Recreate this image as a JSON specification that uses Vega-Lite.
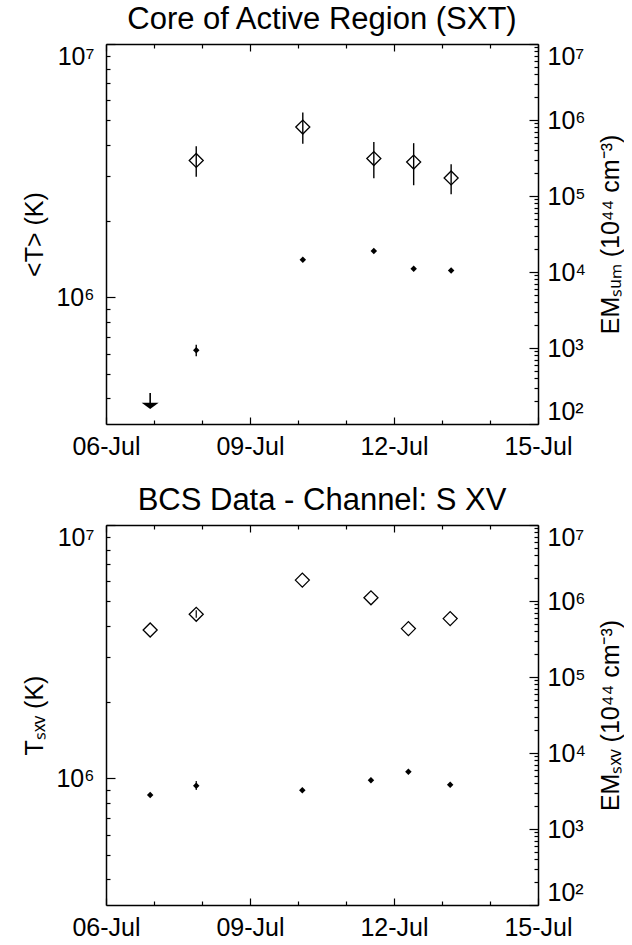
{
  "$schema": "https://vega.github.io/schema/vega-lite/v6.json",
  "padding": {"left": 22, "top": 4, "right": 0, "bottom": 0},
  "spacing": 23,
  "datasets": {
    "sxt_t": [
      {"time": "1996-07-07T21:07:00Z", "t": 3470000, "t_lo": 2990000, "t_hi": 3950000},
      {"time": "1996-07-10T02:24:00Z", "t": 4700000, "t_lo": 4040000, "t_hi": 5360000},
      {"time": "1996-07-11T13:55:00Z", "t": 3530000, "t_lo": 2950000, "t_hi": 4100000},
      {"time": "1996-07-12T09:50:00Z", "t": 3420000, "t_lo": 2770000, "t_hi": 4060000},
      {"time": "1996-07-13T04:34:00Z", "t": 2960000, "t_lo": 2550000, "t_hi": 3350000}
    ],
    "sxt_em": [
      {"time": "1996-07-07T21:07:00Z", "em": 933, "em_lo": 780, "em_hi": 1100},
      {"time": "1996-07-10T02:24:00Z", "em": 14500},
      {"time": "1996-07-11T13:55:00Z", "em": 18900},
      {"time": "1996-07-12T09:50:00Z", "em": 11070},
      {"time": "1996-07-13T04:34:00Z", "em": 10500}
    ],
    "sxt_lim": [
      {"time": "1996-07-06T22:05:00Z", "em_top": 256, "em_lim": 173}
    ],
    "bcs_t": [
      {"time": "1996-07-06T22:05:00Z", "t": 3850000},
      {"time": "1996-07-07T21:07:00Z", "t": 4440000, "t_lo": 4300000, "t_hi": 4610000},
      {"time": "1996-07-10T02:10:00Z", "t": 6060000},
      {"time": "1996-07-11T12:29:00Z", "t": 5160000},
      {"time": "1996-07-12T07:12:00Z", "t": 3900000},
      {"time": "1996-07-13T04:05:00Z", "t": 4270000}
    ],
    "bcs_em": [
      {"time": "1996-07-06T22:05:00Z", "em": 2800},
      {"time": "1996-07-07T21:07:00Z", "em": 3715, "em_lo": 3260, "em_hi": 4290},
      {"time": "1996-07-10T02:10:00Z", "em": 3230},
      {"time": "1996-07-11T12:29:00Z", "em": 4380},
      {"time": "1996-07-12T07:12:00Z", "em": 5680},
      {"time": "1996-07-13T04:05:00Z", "em": 3830}
    ]
  },
  "vconcat": [
    {
      "title": "Core of Active Region (SXT)",
      "width": 432,
      "height": 380,
      "layer": [
        {
          "encoding": {
            "x": {"field": "time", "type": "temporal",
              "scale": {"type": "utc", "nice": false, "domain": [{"year": 1996, "month": 7, "date": 6, "utc": true}, {"year": 1996, "month": 7, "date": 15, "utc": true}]},
              "axis": {"orient": "bottom", "title": null, "labelAngle": 0, "labelOverlap": false, "labelFlush": false, "labelPadding": 17,
                "values": [{"year": 1996, "month": 7, "date": 6, "utc": true}, {"year": 1996, "month": 7, "date": 7, "utc": true}, {"year": 1996, "month": 7, "date": 8, "utc": true}, {"year": 1996, "month": 7, "date": 9, "utc": true}, {"year": 1996, "month": 7, "date": 10, "utc": true}, {"year": 1996, "month": 7, "date": 11, "utc": true}, {"year": 1996, "month": 7, "date": 12, "utc": true}, {"year": 1996, "month": 7, "date": 13, "utc": true}, {"year": 1996, "month": 7, "date": 14, "utc": true}, {"year": 1996, "month": 7, "date": 15, "utc": true}],
                "labelExpr": "utcdate(datum.value) % 3 == 0 ? utcFormat(datum.value, '%d-%b') : ''",
                "tickSize": {"condition": {"test": "utcdate(datum.value) % 3 == 0", "value": -7}, "value": -4}}}
          },
          "layer": [
            {
              "data": {"name": "sxt_t"},
              "mark": {"type": "rule", "color": "black", "strokeWidth": 1.4},
              "encoding": {
                "y": {"field": "t_lo", "type": "quantitative",
                  "scale": {"type": "log", "nice": false, "domain": [316228, 10000000]},
                  "axis": {"orient": "left", "title": "<T> (K)", "labelOverlap": false, "labelFlush": true, "labelPadding": 21, "titlePadding": 8,
                    "values": [400000, 500000, 600000, 700000, 800000, 900000, 1000000, 2000000, 3000000, 4000000, 5000000, 6000000, 7000000, 8000000, 9000000, 10000000],
                    "labelExpr": "datum.value == 1000000 ? '10⁶' : datum.value == 10000000 ? '10⁷' : ''",
                    "tickSize": {"condition": {"test": "datum.value == 1000000 || datum.value == 10000000", "value": -9}, "value": -4}}},
                "y2": {"field": "t_hi"}
              }
            },
            {
              "data": {"name": "sxt_t"},
              "mark": {"type": "point", "shape": "diamond", "filled": false, "color": "black", "size": 196, "strokeWidth": 1.3, "opacity": 1},
              "encoding": {
                "y": {"field": "t", "type": "quantitative", "scale": {"type": "log", "nice": false, "domain": [316228, 10000000]}}
              }
            }
          ]
        },
        {
          "encoding": {
            "x": {"field": "time", "type": "temporal",
              "scale": {"type": "utc", "nice": false, "domain": [{"year": 1996, "month": 7, "date": 6, "utc": true}, {"year": 1996, "month": 7, "date": 15, "utc": true}]},
              "axis": {"orient": "top", "title": null, "labels": false,
                "values": [{"year": 1996, "month": 7, "date": 6, "utc": true}, {"year": 1996, "month": 7, "date": 7, "utc": true}, {"year": 1996, "month": 7, "date": 8, "utc": true}, {"year": 1996, "month": 7, "date": 9, "utc": true}, {"year": 1996, "month": 7, "date": 10, "utc": true}, {"year": 1996, "month": 7, "date": 11, "utc": true}, {"year": 1996, "month": 7, "date": 12, "utc": true}, {"year": 1996, "month": 7, "date": 13, "utc": true}, {"year": 1996, "month": 7, "date": 14, "utc": true}, {"year": 1996, "month": 7, "date": 15, "utc": true}],
                "tickSize": {"condition": {"test": "utcdate(datum.value) % 3 == 0", "value": -7}, "value": -4}}}
          },
          "layer": [
            {
              "data": {"name": "sxt_em"},
              "mark": {"type": "point", "shape": "diamond", "filled": true, "color": "black", "size": 42, "opacity": 1},
              "encoding": {
                "y": {"field": "em", "type": "quantitative",
                  "scale": {"type": "log", "nice": false, "domain": [100, 10000000]},
                  "axis": {"orient": "right", "title": "EMₛᵤₘ (10⁴⁴ cm⁻³)", "titleAngle": 270, "titleBaseline": "top", "labelOverlap": false, "labelFlush": true, "labelPadding": 18, "titlePadding": 13,
                    "values": [100, 200, 300, 400, 500, 600, 700, 800, 900, 1000, 2000, 3000, 4000, 5000, 6000, 7000, 8000, 9000, 10000, 20000, 30000, 40000, 50000, 60000, 70000, 80000, 90000, 100000, 200000, 300000, 400000, 500000, 600000, 700000, 800000, 900000, 1000000, 2000000, 3000000, 4000000, 5000000, 6000000, 7000000, 8000000, 9000000, 10000000],
                    "labelExpr": "datum.value == 100 ? '10²' : datum.value == 1000 ? '10³' : datum.value == 10000 ? '10⁴' : datum.value == 100000 ? '10⁵' : datum.value == 1000000 ? '10⁶' : datum.value == 10000000 ? '10⁷' : ''",
                    "tickSize": {"condition": {"test": "indexof([100, 1000, 10000, 100000, 1000000, 10000000], datum.value) >= 0", "value": -9}, "value": -4}}}
              }
            },
            {
              "data": {"name": "sxt_em"},
              "transform": [{"filter": "isValid(datum.em_lo)"}],
              "mark": {"type": "rule", "color": "black", "strokeWidth": 1.4},
              "encoding": {
                "y": {"field": "em_lo", "type": "quantitative", "scale": {"type": "log", "nice": false, "domain": [100, 10000000]}},
                "y2": {"field": "em_hi"}
              }
            },
            {
              "data": {"name": "sxt_lim"},
              "mark": {"type": "rule", "color": "black", "strokeWidth": 1.6},
              "encoding": {
                "y": {"field": "em_top", "type": "quantitative", "scale": {"type": "log", "nice": false, "domain": [100, 10000000]}},
                "y2": {"field": "em_lim"}
              }
            },
            {
              "data": {"name": "sxt_lim"},
              "mark": {"type": "point", "shape": "M-1,-0.37L1,-0.37L0,0.37Z", "filled": true, "color": "black", "size": 289, "opacity": 1},
              "encoding": {
                "y": {"field": "em_lim", "type": "quantitative", "scale": {"type": "log", "nice": false, "domain": [100, 10000000]}}
              }
            }
          ]
        }
      ],
      "resolve": {"scale": {"y": "independent"}, "axis": {"x": "independent"}}
    },
    {
      "title": "BCS Data - Channel: S XV",
      "width": 432,
      "height": 380,
      "layer": [
        {
          "encoding": {
            "x": {"field": "time", "type": "temporal",
              "scale": {"type": "utc", "nice": false, "domain": [{"year": 1996, "month": 7, "date": 6, "utc": true}, {"year": 1996, "month": 7, "date": 15, "utc": true}]},
              "axis": {"orient": "bottom", "title": null, "labelAngle": 0, "labelOverlap": false, "labelFlush": false, "labelPadding": 17,
                "values": [{"year": 1996, "month": 7, "date": 6, "utc": true}, {"year": 1996, "month": 7, "date": 7, "utc": true}, {"year": 1996, "month": 7, "date": 8, "utc": true}, {"year": 1996, "month": 7, "date": 9, "utc": true}, {"year": 1996, "month": 7, "date": 10, "utc": true}, {"year": 1996, "month": 7, "date": 11, "utc": true}, {"year": 1996, "month": 7, "date": 12, "utc": true}, {"year": 1996, "month": 7, "date": 13, "utc": true}, {"year": 1996, "month": 7, "date": 14, "utc": true}, {"year": 1996, "month": 7, "date": 15, "utc": true}],
                "labelExpr": "utcdate(datum.value) % 3 == 0 ? utcFormat(datum.value, '%d-%b') : ''",
                "tickSize": {"condition": {"test": "utcdate(datum.value) % 3 == 0", "value": -7}, "value": -4}}}
          },
          "layer": [
            {
              "data": {"name": "bcs_t"},
              "mark": {"type": "point", "shape": "diamond", "filled": false, "color": "black", "size": 196, "strokeWidth": 1.3, "opacity": 1},
              "encoding": {
                "y": {"field": "t", "type": "quantitative",
                  "scale": {"type": "log", "nice": false, "domain": [316228, 10000000]},
                  "axis": {"orient": "left", "title": "Tₛₓᵥ (K)", "labelOverlap": false, "labelFlush": true, "labelPadding": 21, "titlePadding": 8,
                    "values": [400000, 500000, 600000, 700000, 800000, 900000, 1000000, 2000000, 3000000, 4000000, 5000000, 6000000, 7000000, 8000000, 9000000, 10000000],
                    "labelExpr": "datum.value == 1000000 ? '10⁶' : datum.value == 10000000 ? '10⁷' : ''",
                    "tickSize": {"condition": {"test": "datum.value == 1000000 || datum.value == 10000000", "value": -9}, "value": -4}}}
              }
            },
            {
              "data": {"name": "bcs_t"},
              "transform": [{"filter": "isValid(datum.t_lo)"}],
              "mark": {"type": "rule", "color": "black", "strokeWidth": 1.2},
              "encoding": {
                "y": {"field": "t_lo", "type": "quantitative", "scale": {"type": "log", "nice": false, "domain": [316228, 10000000]}},
                "y2": {"field": "t_hi"}
              }
            }
          ]
        },
        {
          "encoding": {
            "x": {"field": "time", "type": "temporal",
              "scale": {"type": "utc", "nice": false, "domain": [{"year": 1996, "month": 7, "date": 6, "utc": true}, {"year": 1996, "month": 7, "date": 15, "utc": true}]},
              "axis": {"orient": "top", "title": null, "labels": false,
                "values": [{"year": 1996, "month": 7, "date": 6, "utc": true}, {"year": 1996, "month": 7, "date": 7, "utc": true}, {"year": 1996, "month": 7, "date": 8, "utc": true}, {"year": 1996, "month": 7, "date": 9, "utc": true}, {"year": 1996, "month": 7, "date": 10, "utc": true}, {"year": 1996, "month": 7, "date": 11, "utc": true}, {"year": 1996, "month": 7, "date": 12, "utc": true}, {"year": 1996, "month": 7, "date": 13, "utc": true}, {"year": 1996, "month": 7, "date": 14, "utc": true}, {"year": 1996, "month": 7, "date": 15, "utc": true}],
                "tickSize": {"condition": {"test": "utcdate(datum.value) % 3 == 0", "value": -7}, "value": -4}}}
          },
          "layer": [
            {
              "data": {"name": "bcs_em"},
              "mark": {"type": "point", "shape": "diamond", "filled": true, "color": "black", "size": 42, "opacity": 1},
              "encoding": {
                "y": {"field": "em", "type": "quantitative",
                  "scale": {"type": "log", "nice": false, "domain": [100, 10000000]},
                  "axis": {"orient": "right", "title": "EMₛₓᵥ (10⁴⁴ cm⁻³)", "titleAngle": 270, "titleBaseline": "top", "labelOverlap": false, "labelFlush": true, "labelPadding": 18, "titlePadding": 13,
                    "values": [100, 200, 300, 400, 500, 600, 700, 800, 900, 1000, 2000, 3000, 4000, 5000, 6000, 7000, 8000, 9000, 10000, 20000, 30000, 40000, 50000, 60000, 70000, 80000, 90000, 100000, 200000, 300000, 400000, 500000, 600000, 700000, 800000, 900000, 1000000, 2000000, 3000000, 4000000, 5000000, 6000000, 7000000, 8000000, 9000000, 10000000],
                    "labelExpr": "datum.value == 100 ? '10²' : datum.value == 1000 ? '10³' : datum.value == 10000 ? '10⁴' : datum.value == 100000 ? '10⁵' : datum.value == 1000000 ? '10⁶' : datum.value == 10000000 ? '10⁷' : ''",
                    "tickSize": {"condition": {"test": "indexof([100, 1000, 10000, 100000, 1000000, 10000000], datum.value) >= 0", "value": -9}, "value": -4}}}
              }
            },
            {
              "data": {"name": "bcs_em"},
              "transform": [{"filter": "isValid(datum.em_lo)"}],
              "mark": {"type": "rule", "color": "black", "strokeWidth": 1.2},
              "encoding": {
                "y": {"field": "em_lo", "type": "quantitative", "scale": {"type": "log", "nice": false, "domain": [100, 10000000]}},
                "y2": {"field": "em_hi"}
              }
            }
          ]
        }
      ],
      "resolve": {"scale": {"y": "independent"}, "axis": {"x": "independent"}}
    }
  ],
  "config": {
    "font": "Liberation Sans",
    "view": {"stroke": null},
    "axis": {"grid": false, "domainColor": "black", "domainWidth": 1.5, "tickColor": "black", "tickWidth": 1.2, "labelColor": "black", "labelFontSize": 25, "labelFont": "Liberation Sans", "titleColor": "black", "titleFontSize": 25, "titleFontWeight": "normal", "titleFont": "Liberation Sans"},
    "title": {"fontSize": 31, "fontWeight": "normal", "color": "black", "font": "Liberation Sans", "offset": -1, "baseline": "alphabetic"}
  }
}
